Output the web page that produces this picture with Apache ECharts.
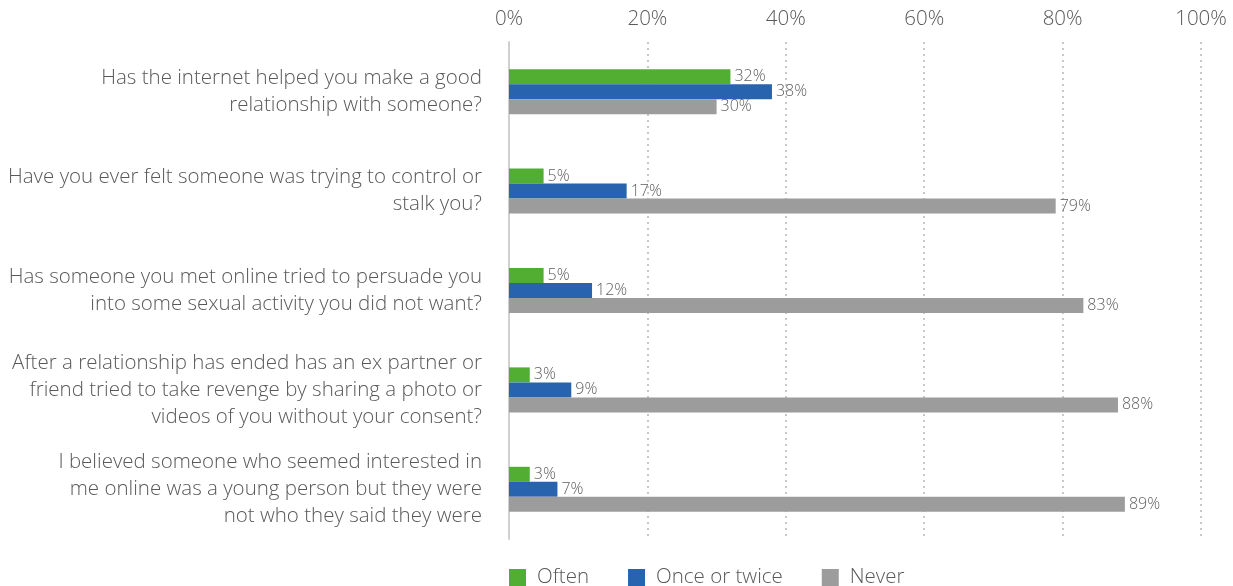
<!DOCTYPE html>
<html><head><meta charset="utf-8">
<script src="https://cdn.jsdelivr.net/npm/echarts@6/dist/echarts.min.js"></script>
<style>html,body{margin:0;padding:0;background:#fff}#c{width:1233px;height:586px}</style>
</head><body><div id="c"></div>
<script>
const categories = [
  "Has the internet helped you make a good\nrelationship with someone?",
  "Have you ever felt someone was trying to control or\nstalk you?",
  "Has someone you met online tried to persuade you\ninto some sexual activity you did not want?",
  "After a relationship has ended has an ex partner or\nfriend tried to take revenge by sharing a photo or\nvideos of you without your consent?",
  "I believed someone who seemed interested in\nme online was a young person but they were\nnot who they said they were"
];
const often = [32, 5, 5, 3, 3];
const onceOrTwice = [38, 17, 12, 9, 7];
const never = [30, 79, 83, 88, 89];
const xTicks = [0, 20, 40, 60, 80, 100];

const FONT = "'Open Sans', 'Noto Sans', sans-serif";
const TXT = '#595959';
const chart = echarts.init(document.getElementById('c'));
function mk(name, data, color) {
  return {
    name, type: 'bar', data, barWidth: 15, barGap: '0%',
    itemStyle: { color },
    label: { show: true, position: 'right', distance: 4, formatter: '{c}%', color: '#606060', fontSize: 16, fontWeight: 300, fontFamily: FONT },
    animation: false
  };
}
chart.setOption({
  animation: false,
  textStyle: { fontFamily: FONT },
  grid: { left: 509, right: 32, top: 42, bottom: 47, containLabel: false },
  legend: {
    bottom: -2, left: 509, padding: 0, itemWidth: 17, itemHeight: 17, itemGap: 39,
    icon: 'rect',
    textStyle: { color: TXT, fontSize: 20.5, fontWeight: 300, fontFamily: FONT, padding: [0, 0, 0, 6] },
    data: ['Often', 'Once or twice', 'Never']
  },
  xAxis: {
    type: 'value', position: 'top', min: xTicks[0], max: xTicks[xTicks.length - 1], interval: 20,
    axisLine: { show: false }, axisTick: { show: false },
    axisLabel: { formatter: '{value}%', color: TXT, fontSize: 20.5, fontWeight: 300, fontFamily: FONT, margin: 12 },
    splitLine: { show: true, lineStyle: { color: '#c8c8c8', type: [2, 4], width: 2 } }
  },
  yAxis: {
    type: 'category', data: categories, inverse: true,
    axisLine: { show: true, lineStyle: { color: '#d0d0d0', width: 2 } },
    axisTick: { show: false },
    axisLabel: { color: TXT, fontSize: 20.5, fontWeight: 300, fontFamily: FONT, lineHeight: 27, margin: 27, align: 'right' }
  },
  series: [
    mk('Often', often, '#52AE32'),
    mk('Once or twice', onceOrTwice, '#2763AE'),
    mk('Never', never, '#9C9C9C')
  ]
});
</script></body></html>
